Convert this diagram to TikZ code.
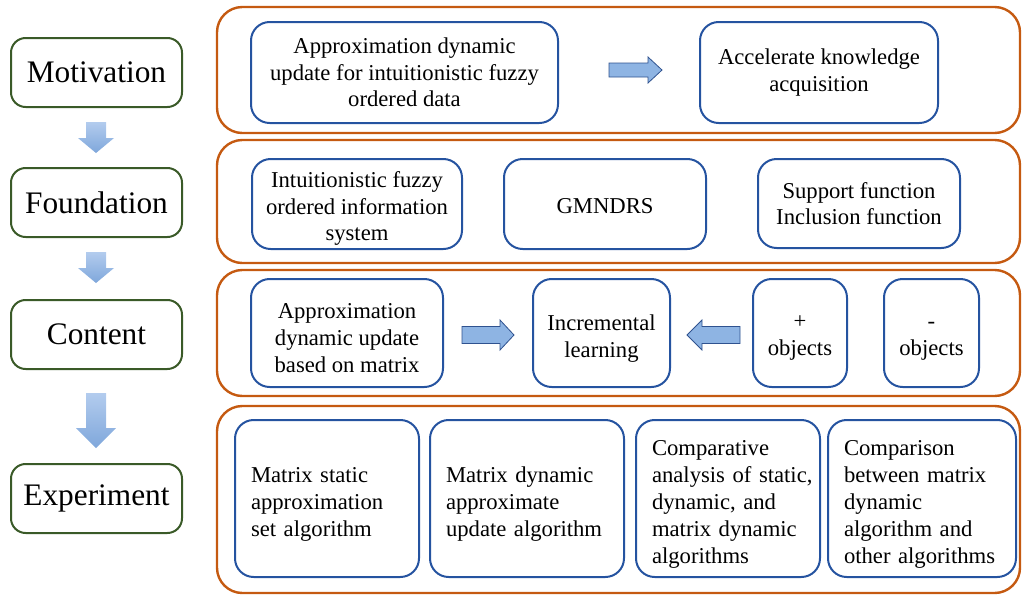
\documentclass[tikz,border=0pt]{standalone}
\usepackage{fontspec}
\setmainfont{Liberation Serif}
\newfontfamily\tnr{Liberation Serif}
\newcommand{\topstrut}[1]{\rule{0pt}{#1}}
\definecolor{orng}{HTML}{C55A11}
\definecolor{bblue}{HTML}{2553A0}
\definecolor{ggreen}{HTML}{3A5A28}
\definecolor{arrfill}{HTML}{8EB4E3}
\definecolor{arrline}{HTML}{2F528F}
\definecolor{vtop}{HTML}{B3CCEE}
\definecolor{vbot}{HTML}{7FA7DB}
\tikzset{
  outerbox/.style={draw=orng, line width=1.8pt, rounded corners=19pt, inner sep=0pt, outer sep=0pt},
  inbox/.style={draw=bblue, line width=1.5pt, rounded corners=14pt, inner sep=0pt, outer sep=0pt,
                align=center, font=\tnr\fontsize{17}{20}\selectfont},
  leftbox/.style={inbox, align=left, inner xsep=12pt, font=\tnr\fontsize{17}{20.3}\selectfont},
  stage/.style={draw=ggreen, line width=1.5pt, rounded corners=11pt, inner sep=0pt,
                minimum width=128.25pt, minimum height=51.75pt, font=\tnr\fontsize{23.5}{28}\selectfont},
  harrow/.style={fill=arrfill, draw=arrline, line width=0.6pt, line join=miter},
  varrow/.style={top color=vtop, bottom color=vbot, draw=none}
}
\begin{document}
\begin{tikzpicture}[x=0.75pt,y=-0.75pt]
\path[use as bounding box] (0,0) rectangle (1022,594);

% left stages
\node[stage] (mot) at (96.5,72.5) {Motivation};
\node[stage] (fou) at (96.5,202.5) {Foundation};
\node[stage] (con) at (96.5,334.5) {Content};
\node[stage] (exp) at (96.5,498.5) {Experiment};

% down arrows
\shade[varrow] (86,122) -- (106,122) -- (106,138) -- (114,138) -- (96,153) -- (78,138) -- (86,138) -- cycle;
\shade[varrow] (86,252) -- (106,252) -- (106,268) -- (114,268) -- (96,283) -- (78,268) -- (86,268) -- cycle;
\shade[varrow] (86,393) -- (106,393) -- (106,428) -- (116,428) -- (96,448) -- (76,428) -- (86,428) -- cycle;

% outer orange panels
\node[outerbox, minimum width=602.25pt, minimum height=94.5pt] (o1) at (618.5,70) {};
\node[outerbox, minimum width=602.25pt, minimum height=92.25pt] (o2) at (618.5,201.5) {};
\node[outerbox, minimum width=602.25pt, minimum height=94.5pt] (o3) at (618.5,333) {};
\node[outerbox, minimum width=602.25pt, minimum height=140.25pt] (o4) at (618.5,499.5) {};

% row 1
\node[inbox, minimum width=230.25pt, minimum height=75.75pt] (a1) at (404.5,72.5)
  {Approximation dynamic\\update for intuitionistic fuzzy\\ordered data};
\node[inbox, minimum width=178.5pt, minimum height=75.75pt] (a2) at (819,72.5)
  {Accelerate knowledge\\acquisition};
\draw[harrow] (609,63) -- (648,63) -- (648,57) -- (662,70) -- (648,83) -- (648,77) -- (609,77) -- cycle;

% row 2
\node[inbox, minimum width=157.5pt, minimum height=67.5pt] (b1) at (357,204)
  {\topstrut{19pt}Intuitionistic fuzzy\\ordered information\\system};
\node[inbox, minimum width=151.5pt, minimum height=67.5pt] (b2) at (605,204) {\topstrut{15pt}GMNDRS};
\node[inbox, minimum width=151.5pt, minimum height=66.75pt] (b3) at (859,203.5)
  {Support function\\Inclusion function};

% row 3
\node[inbox, minimum width=144pt, minimum height=81pt] (c1) at (347,333)
  {\topstrut{19pt}Approximation\\dynamic update\\based on matrix};
\node[inbox, minimum width=102.75pt, minimum height=81pt] (c2) at (601.5,333)
  {\topstrut{20pt}Incremental\\learning};
\node[inbox, minimum width=70.5pt, minimum height=81pt] (c3) at (800,333) {\topstrut{17pt}+\\objects};
\node[inbox, minimum width=71.25pt, minimum height=81pt] (c4) at (931.5,333) {\topstrut{17pt}-\\objects};
\draw[harrow] (462,326.5) -- (500,326.5) -- (500,320) -- (514,335) -- (500,350) -- (500,343.5) -- (462,343.5) -- cycle;
\draw[harrow] (740,326.5) -- (702,326.5) -- (702,320) -- (687,335) -- (702,350) -- (702,343.5) -- (740,343.5) -- cycle;

% row 4
\node[leftbox, text width=114pt, minimum width=138pt, minimum height=117.75pt] (d1) at (327,498.5)
  {\topstrut{20pt}Matrix static\\approximation\\set algorithm};
\node[leftbox, text width=121.5pt, minimum width=145.5pt, minimum height=117.75pt] (d2) at (527,498.5)
  {\topstrut{20pt}Matrix dynamic\\approximate\\update algorithm};
\node[leftbox, text width=114pt, minimum width=138pt, minimum height=117.75pt] (d3) at (728,498.5)
  {\topstrut{20pt}Comparative\\\mbox{analysis of static,}\\dynamic, and\\\mbox{matrix dynamic}\\algorithms};
\node[leftbox, text width=117pt, minimum width=141pt, minimum height=117.75pt] (d4) at (922,498.5)
  {\topstrut{20pt}Comparison\\between matrix\\dynamic\\algorithm and\\\mbox{other algorithms}};
\end{tikzpicture}
\end{document}
